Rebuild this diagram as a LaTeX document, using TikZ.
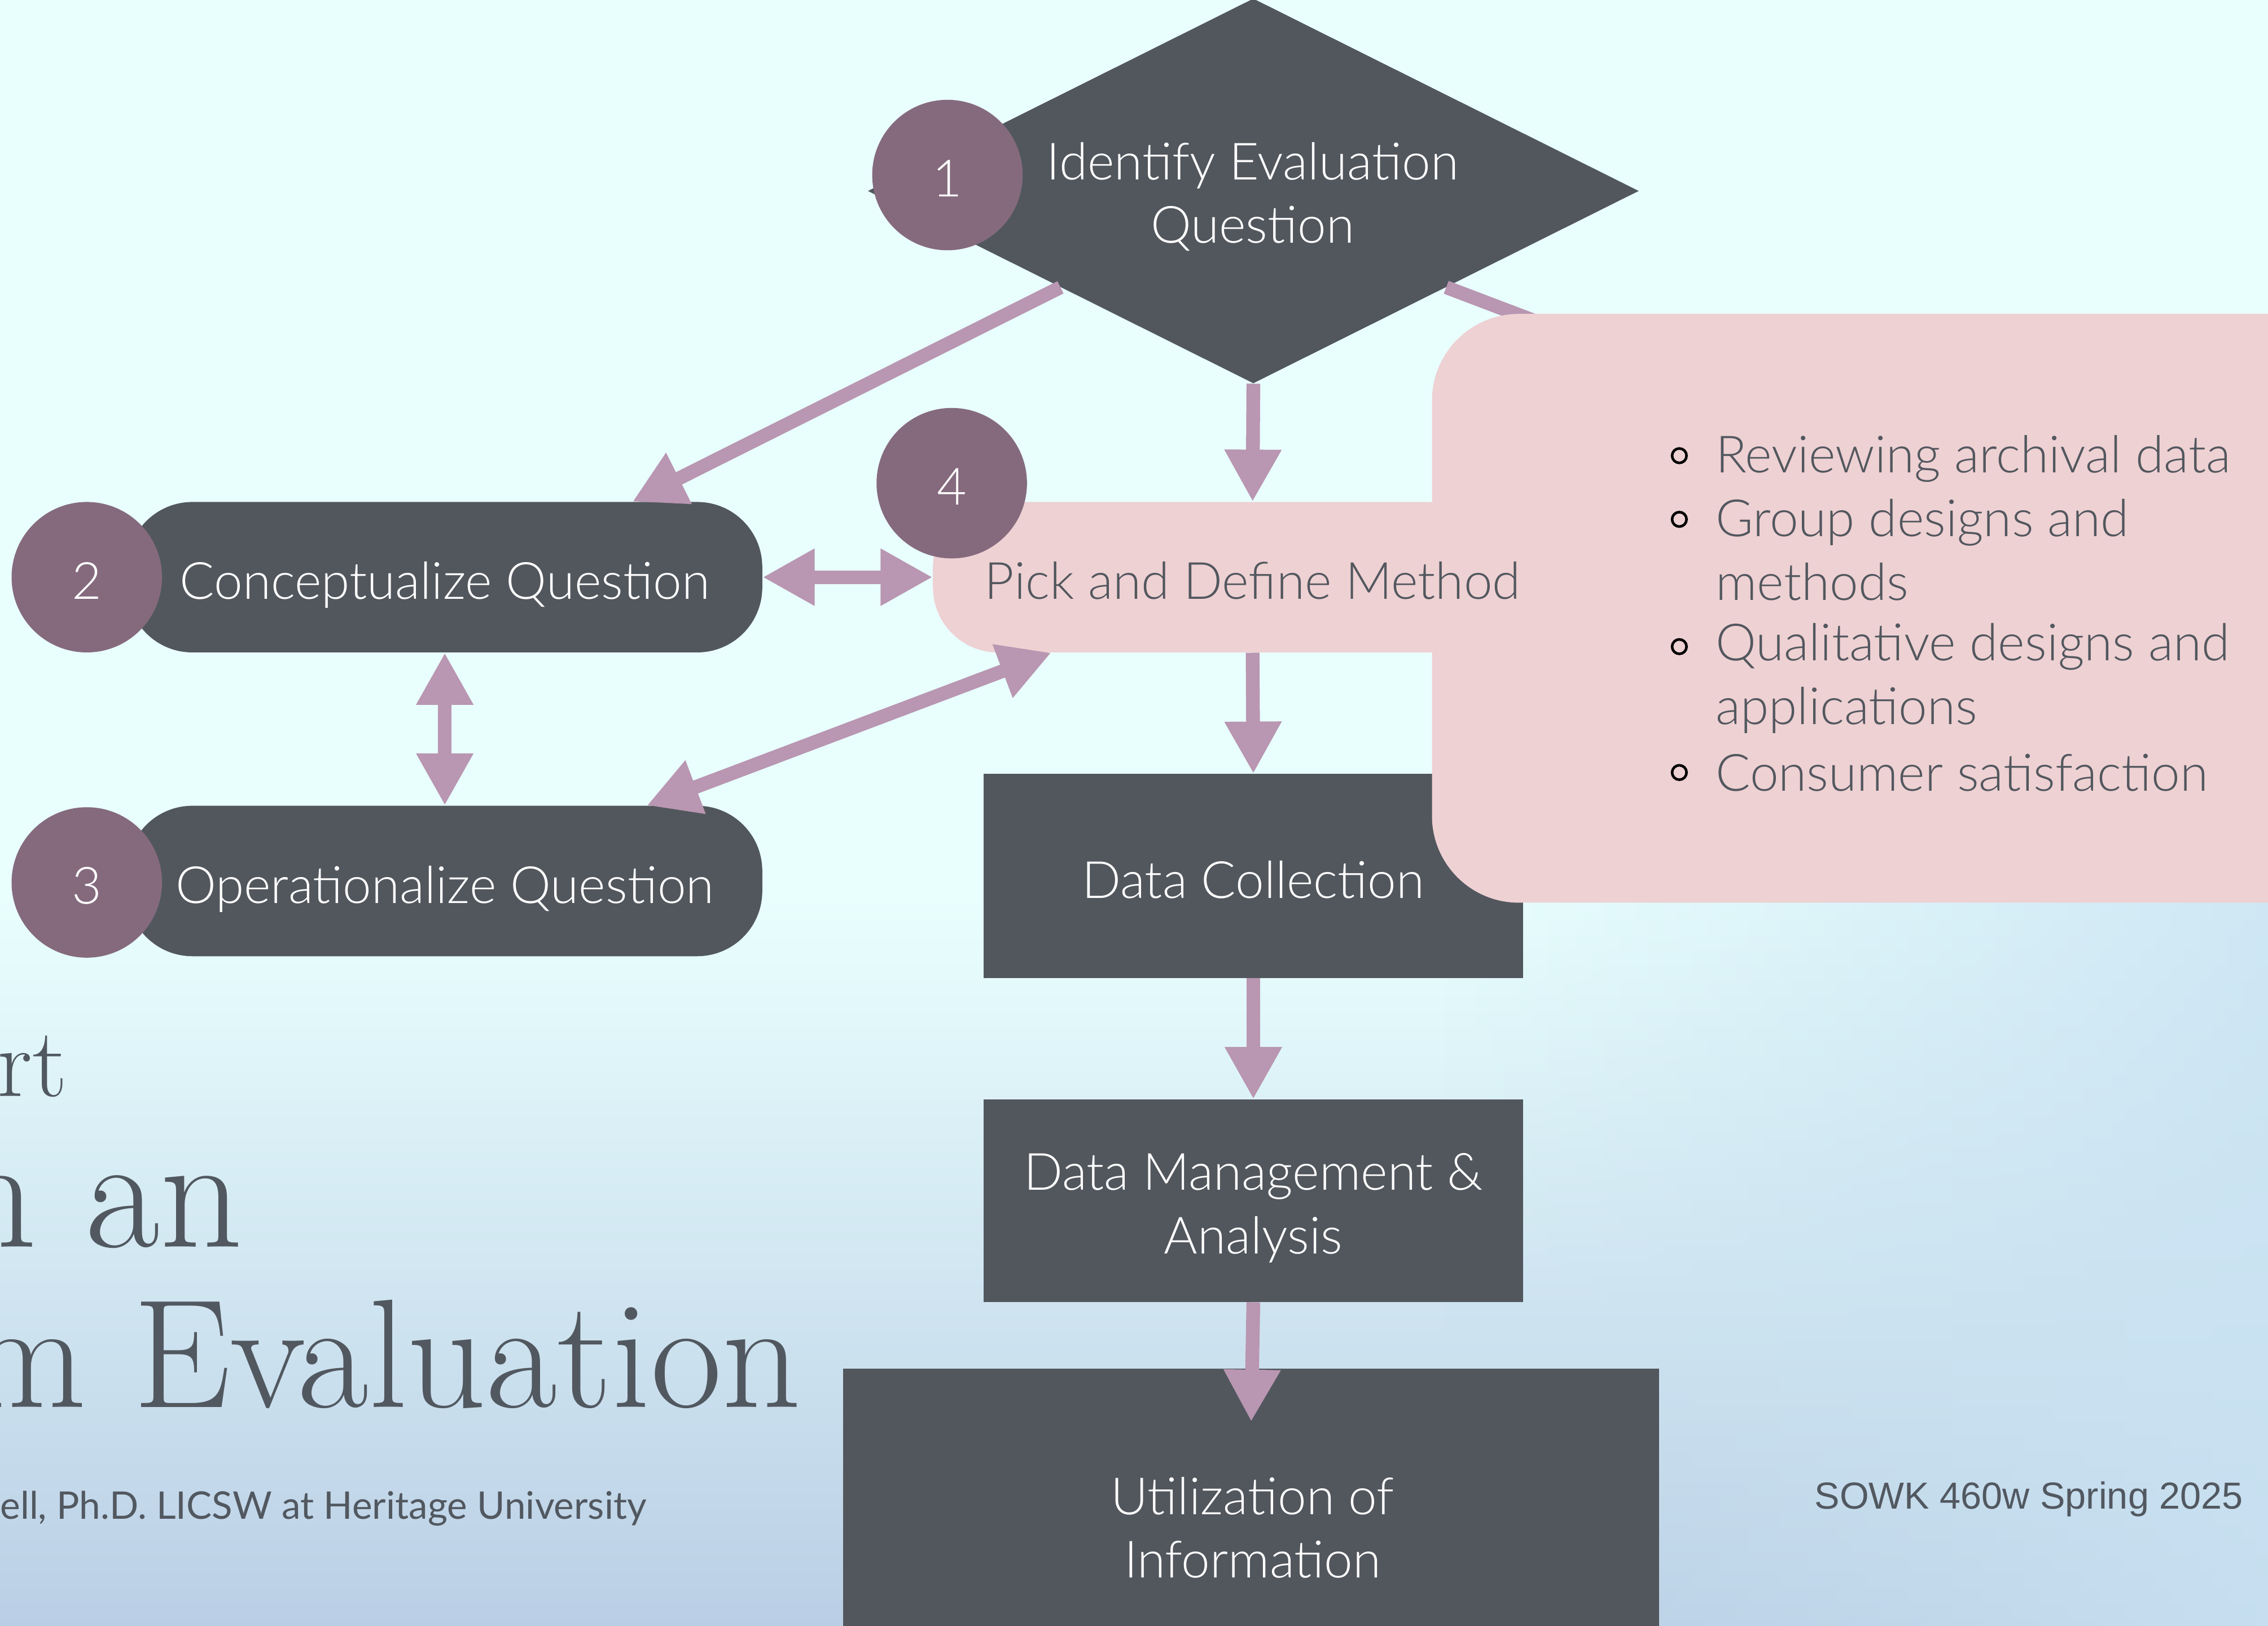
\documentclass[tikz,border=0pt]{standalone}
\usepackage{fontspec}
\IfFontExistsTF{Lato Light}{\setmainfont{Lato Light}}{\setmainfont{Lato}}
\newfontfamily\footf{Liberation Sans}
\newfontfamily\authf{Lato}
\newcommand\titlef{\fontfamily{lmr}\selectfont}
\usetikzlibrary{shapes.geometric,arrows.meta,calc}
\definecolor{boxdark}{HTML}{52575E}
\definecolor{circpurp}{HTML}{856A7E}
\definecolor{arrowpink}{HTML}{B996B1}
\definecolor{boxpink}{HTML}{EED1D3}
\definecolor{bgcyan}{HTML}{E9FFFE}
\definecolor{bgblue}{HTML}{BACFE5}
\definecolor{bgright}{HTML}{C9E2F2}
\definecolor{txtgray}{HTML}{525860}
\tikzset{
  mainfs/.style={font=\fontsize{35.5}{44}\selectfont},
  onetext/.style={text height=33pt, text depth=2.5pt},
  darkbox/.style={fill=boxdark, text=white, mainfs, inner sep=0pt, align=center},
  pill/.style={darkbox, onetext, rounded corners=45pt, minimum width=439pt, minimum height=104pt},
  rectbox/.style={darkbox, minimum width=373pt},
  numcirc/.style={circle, fill=circpurp, text=white, minimum size=104pt, inner sep=0pt, mainfs, text height=30pt, text depth=0pt},
  conn/.style={line width=9.5pt, draw=arrowpink},
  arr/.style={conn, -{Triangle[length=36pt,width=37pt]}},
  darr/.style={conn, {Triangle[length=36pt,width=37pt]}-{Triangle[length=36pt,width=37pt]}},
  bul/.style={circle, draw=black, line width=1.8pt, minimum size=10pt, inner sep=0pt},
  bultext/.style={anchor=west, inner sep=0pt, text=boxdark, mainfs, align=left},
  boxtext/.style={text=white, mainfs, align=center, inner sep=0pt},
  titletext/.style={text=txtgray, inner sep=0pt, anchor=base west},
}
\begin{document}
\begin{tikzpicture}[x=1pt,y=-1pt]
\useasboundingbox (0,0) rectangle (1568,1124);
% background
\fill[bgcyan] (0,0) rectangle (1568,1124);
\shade[top color=bgcyan, bottom color=bgblue] (0,620) rectangle (1568,1124);
\foreach \i in {0,...,57} {
  \fill[bgright, opacity={0.8*(\i/57)}] ({990+\i*10},620) rectangle ({1000+\i*10},1124);
}

% title texts (partly off page)
\node[titletext, font=\titlef\fontsize{68}{68}\selectfont] (tpart) at (-2,758) {rt};
\node[titletext, font=\titlef\fontsize{112}{112}\selectfont] (tline1) at (-32,862) {n an};
\node[titletext, font=\titlef\fontsize{107}{107}\selectfont] (tline2) at (-23,973) {m Evaluation};
\node[text=txtgray, inner sep=0pt, anchor=base west, font=\authf\fontsize{26.3}{26.3}\selectfont] (author) at (0,1050) {ell, Ph.D. LICSW at Heritage University};
\node[text=txtgray, inner sep=0pt, anchor=base east, font=\footf\fontsize{26}{26}\selectfont] (course) at (1551,1043) {SOWK 460w Spring 2025};

% main shapes
\node[diamond, fill=boxdark, minimum width=533pt, minimum height=266pt, inner sep=0pt] (q1) at (866.5,132) {};
\node[pill] (c2) at (307.5,399) {Conceptualize Question};
\node[pill] (c3) at (307.5,609) {Operationalize Question};
\node[rectbox, onetext, minimum height=141pt] (dc) at (866.5,605.5) {Data Collection};
\node[rectbox, minimum height=140pt] (dm) at (866.5,830) {};
\node[boxtext] (dmtxt) at (866.5,835) {Data Management \&\\Analysis};
\node[darkbox, minimum width=564pt, minimum height=254pt] (ui) at (865,1073) {};
\node[boxtext] (uitxt) at (866,1056) {Utilization of\\Information};

% connector hidden under the callout
\coordinate (hidden) at ($(q1.south east)+(100,38)$);
\draw[conn] (q1.south east) -- (hidden);

% callout box
\node[fill=boxpink, rounded corners=60pt, minimum width=650pt, minimum height=407pt, inner sep=0pt] (callout) at (1315,420.5) {};
\node[fill=boxpink, onetext, rounded corners=45pt, minimum width=442pt, minimum height=104pt, inner sep=0pt, text=boxdark, mainfs] (pick) at (866,399) {Pick and Define Method};

% connectors
\draw[arr] (q1.south west) -- ($(c2.north east)+(-90,0)$);
\draw[arr] (q1.south) -- (pick.north);
\draw[darr] (c2.east) -- (pick.west);
\draw[darr] (c2.south) -- (c3.north);
\draw[darr] ($(pick.south west)+(82,0)$) -- ($(c3.north east)+(-80,0)$);
\draw[arr] (pick.south) -- (dc.north);
\draw[arr] (dc.south) -- (dm.north);
\draw[arr] (dm.south) -- ($(ui.north)+(0,37)$);

% question text
\node[boxtext] (q1txt) at (866,136) {Identify Evaluation\\Question};

% number circles
\node[numcirc] (n1) at (655,121) {1};
\node[numcirc] (n2) at (60,399) {2};
\node[numcirc] (n3) at (60,610) {3};
\node[numcirc] (n4) at (658,334) {4};

% bullet list
\node[bul] (b1) at (1161,315) {};
\node[bul] (b2) at (1161,359) {};
\node[bul] (b3) at (1161,447) {};
\node[bul] (b4) at (1161,534) {};
\node[bultext] (i1) at (1186,317) {Reviewing archival data};
\node[bultext] (i2) at (1186,380) {Group designs and\\methods};
\node[bultext] (i3) at (1186,469) {Qualitative designs and\\applications};
\node[bultext] (i4) at (1186,534) {Consumer satisfaction};
\end{tikzpicture}
\end{document}
